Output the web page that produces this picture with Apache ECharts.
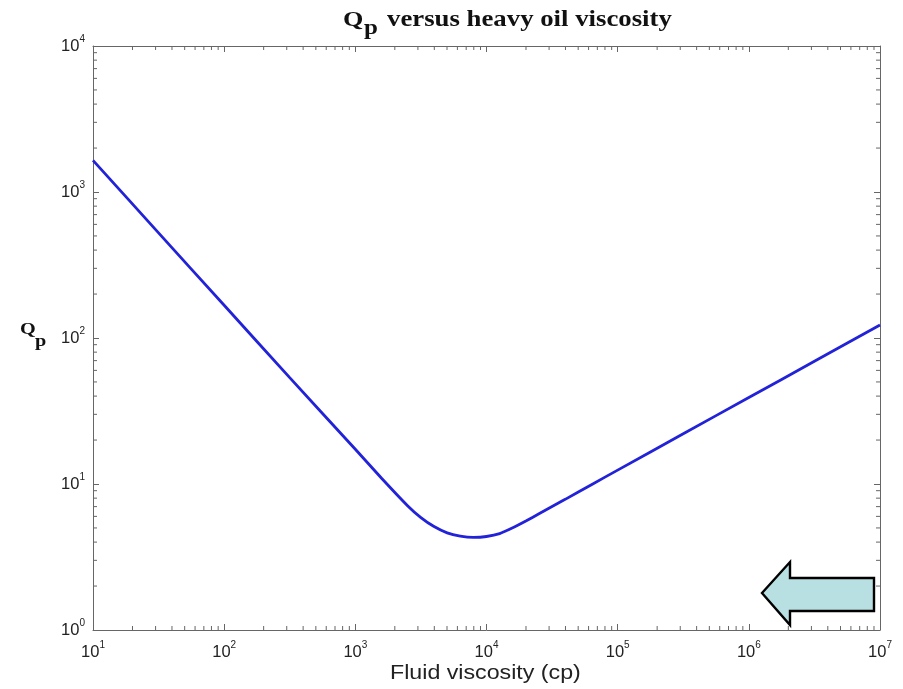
<!DOCTYPE html>
<html>
<head>
<meta charset="utf-8">
<style>html,body{margin:0;padding:0;background:#fff;}#chart{width:903px;height:689px;}</style>
<script src="https://cdn.jsdelivr.net/npm/echarts@6/dist/echarts.min.js"></script>
</head>
<body>
<div id="chart"></div>
<script>
// Fluid viscosity (cp) values
var viscosity = [10, 31.6, 100, 316, 1000, 1585, 2512, 3162, 3981, 5012, 6310, 7943, 10000, 12589, 15849, 19953, 25119, 39811, 63096, 100000, 316228, 1000000, 3162278, 10000000];
// Qp values
var qp = [1648, 525, 167.5, 53.5, 17.3, 10.96, 7.08, 5.89, 5.11, 4.63, 4.40, 4.31, 4.37, 4.57, 5.01, 5.58, 6.25, 7.85, 9.89, 12.45, 22.1, 39.1, 69.2, 122.7];
var xMin = 10, xMax = 10000000, yMin = 1, yMax = 10000;
var xDecades = [1, 2, 3, 4, 5, 6];
var yDecades = [0, 1, 2, 3];
var titleMain = 'versus heavy oil viscosity';
var qLetter = 'Q', pLetter = 'p';
var xTitle = 'Fluid viscosity (cp)';

var xMinor = [], yMinor = [];
xDecades.forEach(function (k) { for (var m = 2; m <= 9; m++) xMinor.push([m * Math.pow(10, k), 1]); });
yDecades.forEach(function (k) { for (var m = 2; m <= 9; m++) yMinor.push([10, m * Math.pow(10, k)]); });

var axisColor = '#666';
function powLabel(v) {
  var n = Math.round(Math.log10(v));
  return '{b|10}{s|' + n + '}';
}
var richLab = {
  b: { fontSize: 16.5, fontFamily: 'Liberation Sans', color: '#222' },
  s: { fontSize: 10, fontFamily: 'Liberation Sans', color: '#222', padding: [0, 0, 14, 0] }
};
function xAx(pos, showLabel) {
  return {
    type: 'log', logBase: 10, min: xMin, max: xMax, splitNumber: 6, position: pos,
    axisLine: { show: true, onZero: false, lineStyle: { color: axisColor, width: 1 } },
    axisTick: { show: true, inside: true, length: 6, lineStyle: { color: axisColor } },
    axisLabel: { show: showLabel, margin: 10, formatter: powLabel, rich: richLab },
    splitLine: { show: false }
  };
}
function yAx(pos, showLabel) {
  return {
    type: 'log', logBase: 10, min: yMin, max: yMax, splitNumber: 4, position: pos,
    axisLine: { show: true, onZero: false, lineStyle: { color: axisColor, width: 1 } },
    axisTick: { show: true, inside: true, length: 6, lineStyle: { color: axisColor } },
    axisLabel: { show: showLabel, margin: 8, formatter: powLabel, rich: richLab },
    splitLine: { show: false }
  };
}
var sx = 1.19; // horizontal stretch of the reference lettering
function txt(str, x, y, font, fill) {
  return { type: 'text', x: x, y: y, scaleX: sx, scaleY: 1, originX: 0, originY: 0,
    style: { text: str, x: 0, y: 0, font: font, fill: fill || '#111', textAlign: 'left', textVerticalAlign: 'top' } };
}

var chart = echarts.init(document.getElementById('chart'), null, { renderer: 'canvas' });
var option = {
  animation: false,
  backgroundColor: '#fff',
  grid: { left: 93, right: 23, top: 46, bottom: 59, containLabel: false },
  xAxis: [xAx('bottom', true), xAx('top', false)],
  yAxis: [yAx('left', true), yAx('right', false)],
  series: [
    {
      type: 'custom', xAxisIndex: 0, yAxisIndex: 0, silent: true, clip: false,
      data: xMinor,
      renderItem: function (params, api) {
        var cs = params.coordSys;
        var p = api.coord([api.value(0), api.value(1)]);
        var st = { stroke: axisColor, lineWidth: 1 };
        return { type: 'group', children: [
          { type: 'line', shape: { x1: p[0], y1: cs.y + cs.height, x2: p[0], y2: cs.y + cs.height - 4 }, style: st },
          { type: 'line', shape: { x1: p[0], y1: cs.y, x2: p[0], y2: cs.y + 4 }, style: st }
        ] };
      }
    },
    {
      type: 'custom', xAxisIndex: 0, yAxisIndex: 0, silent: true, clip: false,
      data: yMinor,
      renderItem: function (params, api) {
        var cs = params.coordSys;
        var p = api.coord([api.value(0), api.value(1)]);
        var st = { stroke: axisColor, lineWidth: 1 };
        return { type: 'group', children: [
          { type: 'line', shape: { x1: cs.x, y1: p[1], x2: cs.x + 4, y2: p[1] }, style: st },
          { type: 'line', shape: { x1: cs.x + cs.width, y1: p[1], x2: cs.x + cs.width - 4, y2: p[1] }, style: st }
        ] };
      }
    },
    {
      type: 'line', xAxisIndex: 0, yAxisIndex: 0,
      data: viscosity.map(function (v, i) { return [v, qp[i]]; }),
      showSymbol: false, smooth: 0.15,
      lineStyle: { color: '#2222d8', width: 2.8 }
    }
  ],
  graphic: [
    txt(qLetter, 343, 9, 'bold 22px "Liberation Serif"'),
    txt(pLetter, 364, 18, 'bold 21px "Liberation Serif"'),
    txt(titleMain, 387, 9, 'bold 22.5px "Liberation Serif"'),
    txt(qLetter, 20, 321, 'bold 17px "Liberation Serif"'),
    txt(pLetter, 35, 333, 'bold 17px "Liberation Serif"'),
    txt(xTitle, 390, 664, '19.5px "Liberation Sans"', '#222'),
    {
      type: 'polygon', z: 100,
      shape: { points: [[762, 593], [790, 562], [790, 578], [874, 578], [874, 611], [790, 611], [790, 625]] },
      style: { fill: '#b8dfe1', stroke: '#000', lineWidth: 2.4, lineJoin: 'miter' }
    }
  ]
};
chart.setOption(option);
</script>
</body>
</html>
